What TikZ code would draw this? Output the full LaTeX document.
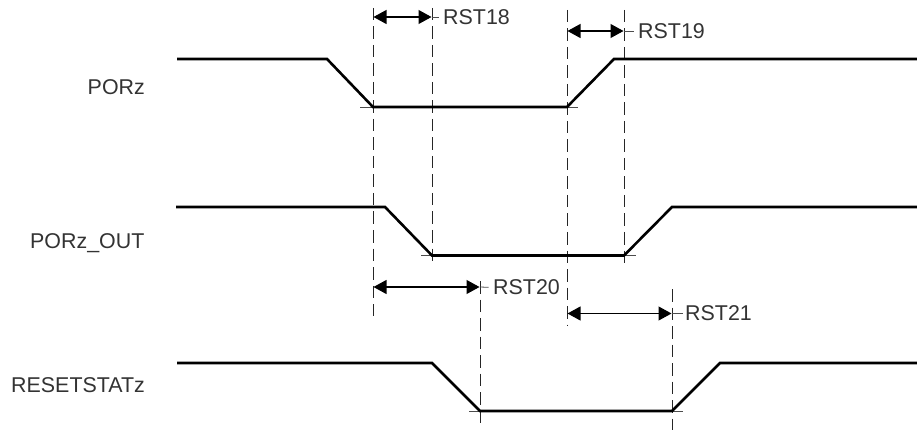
\documentclass[tikz,border=0pt]{standalone}
\usepackage{fontspec}
\setmainfont{Liberation Sans}
\usetikzlibrary{arrows.meta}
\tikzset{
  wave/.style={line width=2.6pt,line join=miter,black},
  guide/.style={line width=0.9pt,black!85,dash pattern=on 12.5pt off 6pt},
  stub/.style={line width=0.7pt,black!70},
  span/.style={line width=1.1pt,black,{Triangle[length=13pt,width=14pt]}-{Triangle[length=13pt,width=14pt]},shorten <=0.5pt,shorten >=0.5pt},
  lead/.style={line width=0.8pt,black!70},
  lbl/.style={font=\fontsize{21.4}{25}\selectfont,text=black!80,inner sep=0pt,anchor=west},
}
\begin{document}
\begin{tikzpicture}[x=1pt,y=-1pt]
\useasboundingbox (0,0) rectangle (917,430);
% signal corners
\coordinate (a0) at (177,59); \coordinate (a1) at (327,59); \coordinate (a2) at (373,107);
\coordinate (a3) at (567,107); \coordinate (a4) at (614,59); \coordinate (a5) at (917,59);
\coordinate (b0) at (176,207); \coordinate (b1) at (385,207); \coordinate (b2) at (432,255.5);
\coordinate (b3) at (624,255.5); \coordinate (b4) at (672,207); \coordinate (b5) at (917,207);
\coordinate (c0) at (177,363); \coordinate (c1) at (432,363); \coordinate (c2) at (480,411);
\coordinate (c3) at (672,411); \coordinate (c4) at (720,363); \coordinate (c5) at (917,363);
% guide ends
\coordinate (g1t) at (373,8); \coordinate (g1b) at (373,316);
\coordinate (g2t) at (432,8); \coordinate (g2b) at (432,266);
\coordinate (g3t) at (567,10); \coordinate (g3b) at (567,325);
\coordinate (g4t) at (624,10); \coordinate (g4b) at (624,266);
\coordinate (g5t) at (480,281); \coordinate (g5b) at (480,423);
\coordinate (g6t) at (672,289); \coordinate (g6b) at (672,431);
% guides
\draw[guide] (g1t) -- (g1b);
\draw[guide] (g2t) -- (g2b);
\draw[guide] (g3t) -- (g3b);
\draw[guide] (g4t) -- (g4b);
\draw[guide] (g5t) -- (g5b);
\draw[guide] (g6t) -- (g6b);
% stubs
\draw[stub] ([xshift=-13pt]a2) -- (a2) (a3) -- ([xshift=11pt]a3);
\draw[stub] ([xshift=-11pt]b2) -- (b2) (b3) -- ([xshift=12pt]b3);
\draw[stub] ([xshift=-11pt]c2) -- (c2) (c3) -- ([xshift=11pt]c3);
% waves
\draw[wave] (a0) -- (a1) -- (a2) -- (a3) -- (a4) -- (a5);
\draw[wave] (b0) -- (b1) -- (b2) -- (b3) -- (b4) -- (b5);
\draw[wave] (c0) -- (c1) -- (c2) -- (c3) -- (c4) -- (c5);
% labels
\node[lbl,anchor=east] (porz) at (145,87) {PORz};
\node[lbl,anchor=base west] (porzout) at (30,248.3) {PORz\_OUT};
\node[lbl,anchor=east] (rstat) at (145,385) {RESETSTATz};
\node[lbl] (r18) at (443,17) {RST18};
\node[lbl] (r19) at (638,31) {RST19};
\node[lbl] (r20) at (493,287.5) {RST20};
\node[lbl] (r21) at (685,313.5) {RST21};
% spans
\coordinate (s18a) at (373,17); \coordinate (s18b) at (432,17);
\coordinate (s19a) at (567,31); \coordinate (s19b) at (624,31);
\coordinate (s20a) at (373,287); \coordinate (s20b) at (480,287);
\coordinate (s21a) at (567,313.5); \coordinate (s21b) at (672,313.5);
\draw[span] (s18a) -- (s18b); \draw[lead,shorten >=4.5pt] (s18b) -- (r18.west);
\draw[span] (s19a) -- (s19b); \draw[lead,shorten >=4.5pt] (s19b) -- (r19.west);
\draw[span] (s20a) -- (s20b); \draw[lead,shorten >=4.5pt] (s20b) -- (r20.west);
\draw[span] (s21a) -- (s21b); \draw[lead,shorten >=2.5pt] (s21b) -- (r21.west);
\end{tikzpicture}
\end{document}
